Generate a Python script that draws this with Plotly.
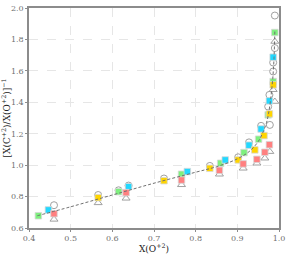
import plotly.graph_objects as go

# Fit line
line_x = [0.42, 0.5, 0.6, 0.7, 0.8, 0.85, 0.9, 0.93, 0.95, 0.96, 0.97, 0.975, 0.98, 0.985, 0.988, 0.99]
line_y = [0.678, 0.735, 0.81, 0.885, 0.955, 0.99, 1.04, 1.09, 1.15, 1.2, 1.27, 1.33, 1.42, 1.55, 1.68, 1.85]

circ_x = [0.460, 0.566, 0.615, 0.639, 0.724, 0.834, 0.902, 0.928, 0.957, 0.978, 0.974, 0.977, 0.986, 0.986, 0.990, 0.990]
circ_y = [0.745, 0.810, 0.840, 0.870, 0.915, 0.995, 1.050, 1.145, 1.250, 1.256, 1.373, 1.447, 1.596, 1.653, 1.745, 1.952]

tri_x = [0.460, 0.566, 0.633, 0.766, 0.857, 0.914, 0.947, 0.966, 0.978, 0.990, 0.986, 0.990]
tri_y = [0.655, 0.760, 0.789, 0.875, 0.942, 0.980, 1.012, 1.044, 1.086, 1.405, 1.480, 1.787]

green_x = [0.4225, 0.615, 0.766, 0.860, 0.916, 0.951, 0.974, 0.986, 0.990]
green_y = [0.678, 0.831, 0.942, 1.012, 1.080, 1.165, 1.320, 1.532, 1.844]

cyan_x = [0.4466, 0.639, 0.780, 0.871, 0.928, 0.957, 0.977, 0.986]
cyan_y = [0.715, 0.863, 0.959, 1.033, 1.127, 1.230, 1.409, 1.687]

yellow_x = [0.566, 0.724, 0.834, 0.902, 0.942, 0.964, 0.977, 0.986]
yellow_y = [0.793, 0.901, 0.980, 1.033, 1.097, 1.188, 1.326, 1.511]

salmon_x = [0.460, 0.633, 0.766, 0.857, 0.914, 0.947, 0.966, 0.977]
salmon_y = [0.691, 0.825, 0.905, 0.967, 1.008, 1.037, 1.082, 1.130]

fig = go.Figure()
fig.add_trace(go.Scatter(x=circ_x, y=circ_y, mode="markers",
                         marker=dict(symbol="circle-open", size=7, color="#a0a0a0", line=dict(width=1))))
fig.add_trace(go.Scatter(x=tri_x, y=tri_y, mode="markers",
                         marker=dict(symbol="triangle-up-open", size=7, color="#a0a0a0", line=dict(width=1))))
for xs, ys, c in [(green_x, green_y, "#7ef07e"), (cyan_x, cyan_y, "#22d8ff"),
                  (yellow_x, yellow_y, "#ffd500"), (salmon_x, salmon_y, "#ff8080")]:
    fig.add_trace(go.Scatter(x=xs, y=ys, mode="markers",
                             marker=dict(symbol="square", size=6.5, color=c,
                                         line=dict(width=0.8, color="#d8d8d8"))))
fig.add_trace(go.Scatter(x=line_x, y=line_y, mode="lines", line_shape="spline",
                         line=dict(color="#707070", width=1, dash="3px,2px")))

axis_common = dict(showline=True, linecolor="#8c8c8c", linewidth=1.5, mirror=True,
                   showgrid=True, gridcolor="#e6e6e6", griddash="dash", gridwidth=1,
                   zeroline=False, ticks="outside", ticklen=2, tickcolor="#8c8c8c",
                   tickfont=dict(family="DejaVu Serif", size=8, color="#707070"))
fig.update_layout(
    width=288, height=254, showlegend=False,
    margin=dict(l=29, r=9, t=8, b=26, autoexpand=False),
    plot_bgcolor="white", paper_bgcolor="white",
    font=dict(family="DejaVu Serif", color="#222"),
    xaxis=dict(range=[0.4, 1.0], dtick=0.1, tickformat=".1f",
               title=dict(text="X(O<sup>+2</sup>)", font=dict(size=9), standoff=2), **axis_common),
    yaxis=dict(range=[0.6, 2.0], dtick=0.2, tickformat=".1f",
               title=dict(text="[X(C<sup>+2</sup>)/X(O<sup>+2</sup>)]<sup>−1</sup>", font=dict(size=9), standoff=2),
               **axis_common),
)
fig.write_html("out.html", config={"displayModeBar": False},
               post_script="document.body.style.margin='0';document.body.style.overflow='hidden';")
